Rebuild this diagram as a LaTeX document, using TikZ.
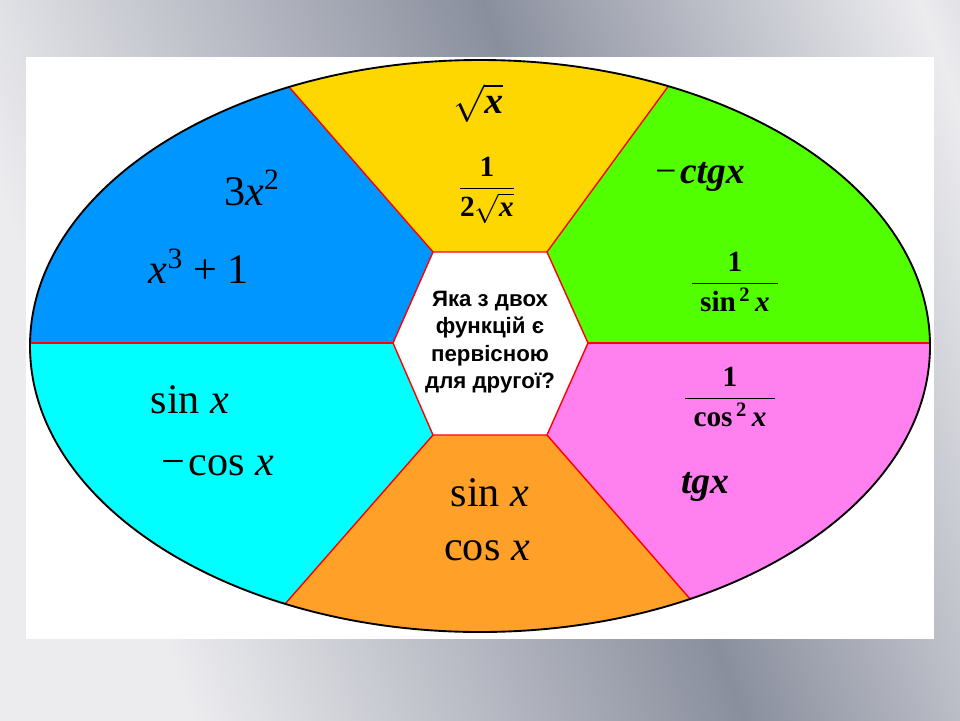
\RequirePackage{fix-cm}
\documentclass[tikz,border=0pt]{standalone}
\usepackage{amsmath}
\usepackage{fontspec}
\setmainfont{Liberation Serif}
\newfontfamily\hexfont{Liberation Sans}
\usetikzlibrary{calc}

\definecolor{secblue}{RGB}{0,150,255}
\definecolor{secyellow}{RGB}{255,215,0}
\definecolor{secgreen}{RGB}{82,255,0}
\definecolor{seccyan}{RGB}{0,255,255}
\definecolor{secorange}{RGB}{255,160,40}
\definecolor{secpink}{RGB}{255,128,238}
\definecolor{bglight}{RGB}{236,236,239}
\definecolor{bgdark}{RGB}{138,143,158}
\pgfdeclarehorizontalshading{bgbands}{100bp}{color(0bp)=(bglight); color(28bp)=(bglight); color(57bp)=(bgdark); color(80bp)=(bglight); color(100bp)=(bgdark)}

\begin{document}
\begin{tikzpicture}[
  x=0.03cm,y=-0.03cm,
  sep/.style={red,line width=1.2pt},
  rim/.style={black,line width=1.6pt},
  big/.style={font=\fontsize{36}{40}\selectfont},
  mid/.style={font=\fontsize{32}{36}\selectfont},
  frc/.style={font=\fontsize{25}{29}\selectfont},
  ask/.style={font=\hexfont\bfseries\fontsize{19}{23.5}\selectfont,align=center}
]
\useasboundingbox (0,0) rectangle (960,720);

% --- background and white card ---
\shade[shading=bgbands,shading angle=20] (0,0) rectangle (960,720);
\fill[white] (26,57) rectangle (934,639);

% --- hexagon corners, rim points ---
\coordinate (ctr) at (480,346);
\coordinate (h1) at (433,252);
\coordinate (h2) at (547,252);
\coordinate (h3) at (588,343);
\coordinate (h4) at (547,435);
\coordinate (h5) at (433,435);
\coordinate (h6) at (393,343);
\coordinate (r1) at (290,88);
\coordinate (r2) at (667,88);
\coordinate (r3) at (930,343);
\coordinate (r4) at (691,600);
\coordinate (r5) at (285,604);
\coordinate (r6) at (30,343);
\foreach \i in {1,...,6}{
  \coordinate (f\i) at ($(h\i)!3!(r\i)$);
}

% --- coloured sectors ---
\begin{scope}
  \clip (ctr) ellipse [x radius=450, y radius=286];
  \fill[secyellow] (h1) -- (f1) -- (f2) -- (h2) -- cycle;
  \fill[secgreen]  (h2) -- (f2) -- (1700,-300) -- (f3) -- (h3) -- cycle;
  \fill[secpink]   (h3) -- (f3) -- (1700,1000) -- (f4) -- (h4) -- cycle;
  \fill[secorange] (h4) -- (f4) -- (f5) -- (h5) -- cycle;
  \fill[seccyan]   (h5) -- (f5) -- (-700,1000) -- (f6) -- (h6) -- cycle;
  \fill[secblue]   (h6) -- (f6) -- (-700,-300) -- (f1) -- (h1) -- cycle;
  \foreach \i in {1,...,6}{
    \draw[sep] (h\i) -- (f\i);
  }
\end{scope}
\draw[rim] (ctr) ellipse [x radius=450, y radius=286];

% --- centre hexagon ---
\filldraw[sep,fill=white] (h1) -- (h2) -- (h3) -- (h4) -- (h5) -- (h6) -- cycle;
\node[ask] (q) at (490,342) {Яка з двох\\функцій є\\первісною\\для другої?};

% --- pairs of functions ---
\node[mid] (sq)  at (478,103) {$\sqrt{\text{\bfseries\itshape x}}$};
\node[frc] (dsq) at (487,190) {$\dfrac{\text{\bfseries 1}}{\text{\bfseries 2}\sqrt{\text{\bfseries\itshape x}}}$};

\node[big] (tx)  at (252,188) {3\textit{x}\textsuperscript{2}};
\node[big] (cx)  at (199,266) {\textit{x}\textsuperscript{3} + 1};

\node[mid] (ct)  at (700,177) {−\kern3pt\textbf{\textit{ctgx}}};
\node[frc] (dct) at (735,282) {$\dfrac{\text{\bfseries 1}}{\;\text{\bfseries sin\textsuperscript{\,2}\,\textit{x}}\;}$};

\node[big] (sn)  at (190,400) {sin \textit{x}};
\node[big] (mc)  at (218,466) {−\kern3pt cos \textit{x}};

\node[frc] (dtg) at (730,397) {$\dfrac{\text{\bfseries 1}}{\;\text{\bfseries cos\textsuperscript{\,2}\,\textit{x}}\;}$};
\node[mid] (tg)  at (705,487) {\textbf{\textit{tgx}}};

\node[big] (sn2) at (490,493) {sin \textit{x}};
\node[big] (cs2) at (487,551) {cos \textit{x}};
\end{tikzpicture}
\end{document}
